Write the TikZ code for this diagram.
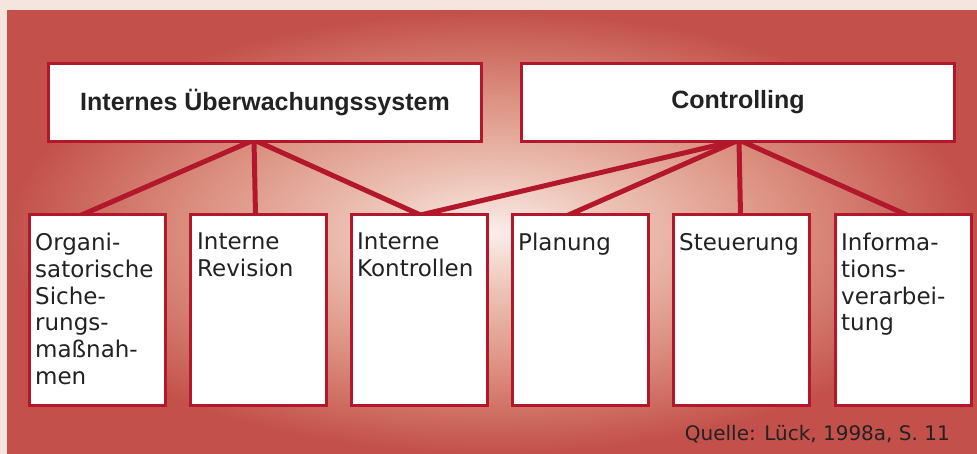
\documentclass[tikz,border=0pt]{standalone}
\usepackage{fontspec}
\setmainfont{DejaVu Sans}
\newfontfamily\titlefont{Liberation Sans}
\definecolor{bgpale}{HTML}{F6E4DE}
\definecolor{boxred}{HTML}{B3172C}
\definecolor{textc}{HTML}{222222}
\definecolor{pcA}{HTML}{FAEEEA}
\definecolor{pcB}{HTML}{EEC6BA}
\definecolor{pcC}{HTML}{DC9282}
\definecolor{pcD}{HTML}{C3504A}
\pgfdeclareradialshading{panelshade}{\pgfpoint{0bp}{0bp}}{color(0bp)=(pcA); color(6bp)=(pcB); color(15bp)=(pcC); color(25bp)=(pcD); color(50bp)=(pcD)}
\begin{document}
\begin{tikzpicture}[x=1pt,y=-1pt,
  box/.style={draw=boxred, line width=3pt, fill=white, inner sep=0pt},
  topbox/.style={box, minimum width=433pt, minimum height=78pt, anchor=north west,
     font=\titlefont\bfseries\fontsize{25}{30}\selectfont, text=textc},
  botbox/.style={box, minimum width=133pt, minimum height=187pt, anchor=north west},
  conn/.style={draw=boxred, line width=5pt, line cap=round},
  txt/.style={anchor=north west, inner sep=0pt, align=left,
     font=\fontsize{23}{26.7}\selectfont, text=textc},
]
\useasboundingbox (0,0) rectangle (977,454);
\fill[bgpale] (0,0) rectangle (977,454);
\path[shading=panelshade] (7,11) rectangle (977,454);

\coordinate (s1) at (254,140);
\coordinate (s2) at (739,140);

\coordinate (p1) at (29,215);
\coordinate (p2) at (190,215);
\coordinate (p3) at (351,215);
\coordinate (p4) at (512,215);
\coordinate (p5) at (673,215);
\coordinate (p6) at (835,215);

\node[botbox] (b1) at (p1) {};
\node[botbox] (b2) at (p2) {};
\node[botbox] (b3) at (p3) {};
\node[botbox] (b4) at (p4) {};
\node[botbox] (b5) at (p5) {};
\node[botbox] (b6) at (p6) {};

% connectors
\draw[conn] (s1) -- ([xshift=-15.5pt]b1.north);
\draw[conn] (s1) -- ([xshift=-2.5pt]b2.north);
\draw[conn] (s1) -- ([xshift=1.5pt]b3.north);
\draw[conn] (s2) -- ([xshift=1.5pt]b3.north);
\draw[conn] (s2) -- ([xshift=-11.5pt]b4.north);
\draw[conn] (s2) -- ([xshift=-0.5pt]b5.north);
\draw[conn] (s2) -- ([xshift=4pt]b6.north);

% redraw box borders over connector ends
\foreach \b in {b1,b2,b3,b4,b5,b6}{
  \draw[boxred, line width=3pt, fill=white] (\b.north west) rectangle (\b.south east);
}

\node[topbox] (t1) at (47,62) {Internes Überwachungssystem};
\node[topbox] (t2) at (520,62) {Controlling};

% texts
\node[txt] (l1) at ([xshift=6pt,yshift=-18pt]b1.north west) {Organi-\\satorische\\Siche-\\rungs-\\maßnah-\\men};
\node[txt] (l2) at ([xshift=7pt,yshift=-18pt]b2.north west) {Interne\\Revision};
\node[txt] (l3) at ([xshift=6pt,yshift=-18pt]b3.north west) {Interne\\Kontrollen};
\node[txt] (l4) at ([xshift=6pt,yshift=-18pt]b4.north west) {Planung};
\node[txt] (l5) at ([xshift=6pt,yshift=-18pt]b5.north west) {Steuerung};
\node[txt] (l6) at ([xshift=6pt,yshift=-18pt]b6.north west) {Informa-\\tions-\\verarbei-\\tung};

\node[anchor=base east, inner sep=0pt, font=\fontsize{20}{24}\selectfont, text=textc] (q) at (950,440) {Quelle: Lück, 1998a, S. 11};
\end{tikzpicture}
\end{document}
